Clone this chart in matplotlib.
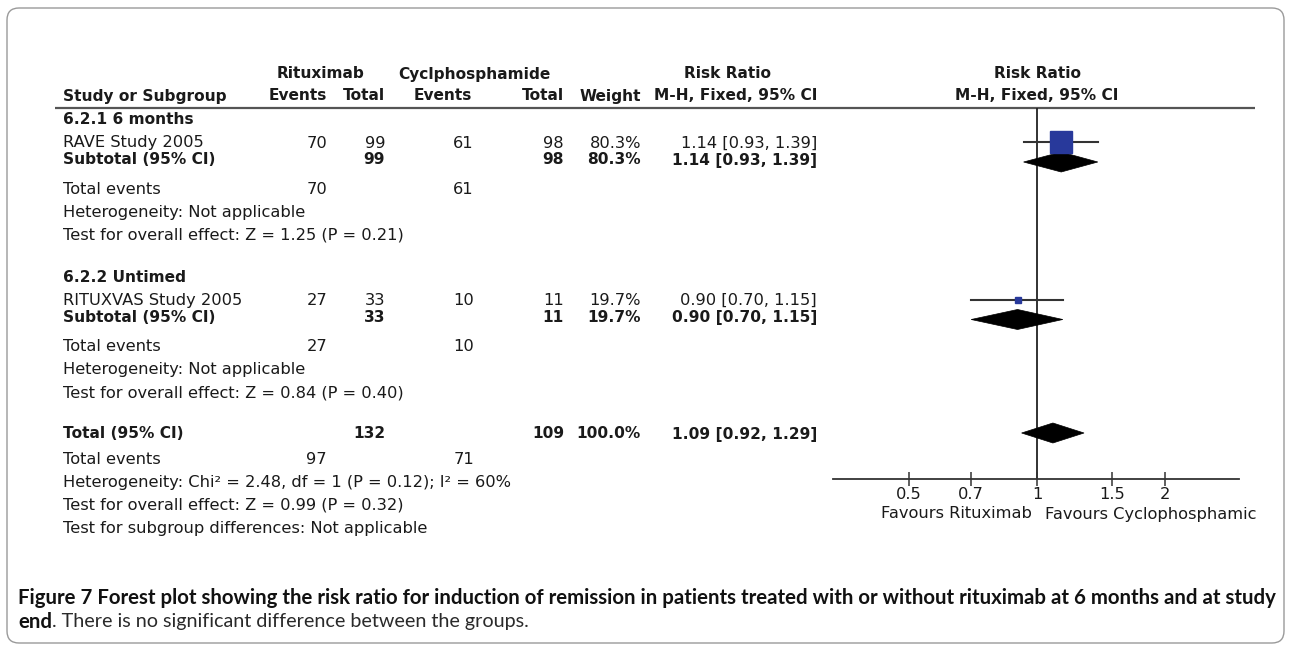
import matplotlib
matplotlib.use("Agg")
import matplotlib.pyplot as plt
from matplotlib.patches import Polygon, FancyBboxPatch
import numpy as np

plt.rcParams["font.family"] = ["DejaVu Sans"]

# ---------------- data ----------------
subgroups = ["6.2.1 6 months", "6.2.2 Untimed"]
studies = ["RAVE Study 2005", "RITUXVAS Study 2005"]
rtx_events = [70, 27]
rtx_total = [99, 33]
cyc_events = [61, 10]
cyc_total = [98, 11]
weights = [80.3, 19.7]
rr = [1.14, 0.90]
rr_lo = [0.93, 0.70]
rr_hi = [1.39, 1.15]
sub_rr = [1.14, 0.90]
sub_lo = [0.93, 0.70]
sub_hi = [1.39, 1.15]
het_texts = ["Heterogeneity: Not applicable", "Heterogeneity: Not applicable"]
effect_texts = ["Test for overall effect: Z = 1.25 (P = 0.21)",
                "Test for overall effect: Z = 0.84 (P = 0.40)"]
total_rtx_events = 97
total_rtx = 132
total_cyc_events = 71
total_cyc = 109
total_weight = 100.0
total_rr = 1.09
total_lo = 0.92
total_hi = 1.29
total_het = "Heterogeneity: Chi\u00b2 = 2.48, df = 1 (P = 0.12); I\u00b2 = 60%"
total_effect = "Test for overall effect: Z = 0.99 (P = 0.32)"
subgroup_diff = "Test for subgroup differences: Not applicable"
tick_values = [0.5, 0.7, 1, 1.5, 2]
tick_labels = ["0.5", "0.7", "1", "1.5", "2"]
favours_left = "Favours Rituximab"
favours_right = "Favours Cyclophosphamic"
caption_bold = ("Figure 7 Forest plot showing the risk ratio for induction of remission in patients "
                "treated with or without rituximab at 6 months and at study")
caption_bold2 = "end"
caption_rest = ". There is no significant difference between the groups."

# ---------------- layout ----------------
W, H = 1291, 647
fig = plt.figure(figsize=(W / 100, H / 100), dpi=100)
tab = fig.add_axes([0, 0, 1, 1])
tab.set_xlim(0, W)
tab.set_ylim(H, 0)
tab.axis("off")

FS = 11.7
FSB = 11.1
TXT = "#1a1a1a"
TFONT = ["DejaVu Sans"]
col_label = 63
col_re, col_rt, col_ce, col_ct, col_w, col_ci = 327, 385, 474, 564, 641, 817

def t(x, y, s, ha="left", bold=False, **kw):
    tab.text(x, y, s, ha=ha, va="center", fontsize=FSB if bold else FS, color=TXT,
             family=TFONT, fontweight="bold" if bold else "normal", **kw)

# headers
t(321, 74, "Rituximab", ha="center", bold=True)
t(474.5, 74, "Cyclphosphamide", ha="center", bold=True)
t(728, 74, "Risk Ratio", ha="center", bold=True)
t(1037, 74, "Risk Ratio", ha="center", bold=True)
t(col_label, 96, "Study or Subgroup", bold=True)
t(col_re, 96, "Events", ha="right", bold=True)
t(col_rt, 96, "Total", ha="right", bold=True)
t(443, 96, "Events", ha="center", bold=True)
t(col_ct, 96, "Total", ha="right", bold=True)
t(col_w, 96, "Weight", ha="right", bold=True)
t(col_ci, 96, "M-H, Fixed, 95% CI", ha="right", bold=True)
t(1037, 96, "M-H, Fixed, 95% CI", ha="center", bold=True)
tab.plot([55, 1255], [108, 108], color="#555555", lw=1.6, solid_capstyle="butt")

# forest axes
x_left_px, x_right_px, x_one_px = 833, 1239, 1037
px_per_ln = 184.6
y_top_px, y_axis_px = 108, 479
fp = fig.add_axes([x_left_px / W, (H - y_axis_px) / H,
                   (x_right_px - x_left_px) / W, (y_axis_px - y_top_px) / H])
fp.set_xscale("log")
fp.set_xlim(np.exp((x_left_px - x_one_px) / px_per_ln), np.exp((x_right_px - x_one_px) / px_per_ln))
fp.set_ylim(y_axis_px, y_top_px)
fp.patch.set_alpha(0)
for s in ["top", "left", "right"]:
    fp.spines[s].set_visible(False)
fp.spines["bottom"].set_color("#333333")
fp.spines["bottom"].set_linewidth(1.3)
fp.set_yticks([])
fp.set_xticks(tick_values)
fp.set_xticklabels(tick_labels, family=TFONT)
fp.xaxis.set_minor_locator(matplotlib.ticker.NullLocator())
fp.tick_params(axis="x", direction="inout", length=10, width=1.1, color="#333333",
               labelsize=FS, labelcolor=TXT, pad=0.5)
fp.axvline(1, color="#222222", lw=1.3, zorder=1)

SQ = "#28399b"
DH = 20

def diamond(y, c, lo, hi):
    fp.add_patch(Polygon([(lo, y), (c, y - DH / 2), (hi, y), (c, y + DH / 2)],
                         closed=True, facecolor="black", edgecolor="black", lw=0.5, zorder=3))

group_offsets = [0, 157.5]
for i in range(2):
    o = group_offsets[i]
    y_head, y_study, y_sub = 120 + o, 143 + o, 160 + o
    y_ev, y_het, y_eff = 189 + o, 212 + o, 235 + o
    t(col_label, y_head, subgroups[i], bold=True)
    t(col_label, y_study, studies[i])
    t(col_re, y_study, f"{rtx_events[i]}", ha="right")
    t(col_rt, y_study, f"{rtx_total[i]}", ha="right")
    t(col_ce, y_study, f"{cyc_events[i]}", ha="right")
    t(col_ct, y_study, f"{cyc_total[i]}", ha="right")
    t(col_w, y_study, f"{weights[i]:.1f}%", ha="right")
    t(col_ci, y_study, f"{rr[i]:.2f} [{rr_lo[i]:.2f}, {rr_hi[i]:.2f}]", ha="right")
    t(col_label, y_sub, "Subtotal (95% CI)", bold=True)
    t(col_rt, y_sub, f"{rtx_total[i]}", ha="right", bold=True)
    t(col_ct, y_sub, f"{cyc_total[i]}", ha="right", bold=True)
    t(col_w, y_sub, f"{weights[i]:.1f}%", ha="right", bold=True)
    t(col_ci, y_sub, f"{sub_rr[i]:.2f} [{sub_lo[i]:.2f}, {sub_hi[i]:.2f}]", ha="right", bold=True)
    t(col_label, y_ev, "Total events")
    t(col_re, y_ev, f"{rtx_events[i]}", ha="right")
    t(col_ce, y_ev, f"{cyc_events[i]}", ha="right")
    t(col_label, y_het, het_texts[i])
    t(col_label, y_eff, effect_texts[i])
    # forest marks
    fp.plot([rr_lo[i], rr_hi[i]], [y_study - 1, y_study - 1], color="#333333", lw=1.5, zorder=2)
    side_px = 0.63 * weights[i] ** 0.8
    fp.plot([rr[i]], [y_study - 1], marker="s", linestyle="none", markersize=side_px * 0.72,
            markerfacecolor=SQ, markeredgecolor=SQ, zorder=4)
    diamond(y_sub + 2, sub_rr[i], sub_lo[i], sub_hi[i])

# overall
y_tot = 434
t(col_label, y_tot, "Total (95% CI)", bold=True)
t(col_rt, y_tot, f"{total_rtx}", ha="right", bold=True)
t(col_ct, y_tot, f"{total_cyc}", ha="right", bold=True)
t(col_w, y_tot, f"{total_weight:.1f}%", ha="right", bold=True)
t(col_ci, y_tot, f"{total_rr:.2f} [{total_lo:.2f}, {total_hi:.2f}]", ha="right", bold=True)
t(col_label, 459, "Total events")
t(col_re, 459, f"{total_rtx_events}", ha="right")
t(col_ce, 459, f"{total_cyc_events}", ha="right")
t(col_label, 482, total_het)
t(col_label, 505, total_effect)
t(col_label, 528, subgroup_diff)
diamond(y_tot - 1, total_rr, total_lo, total_hi)

t(1032, 514, favours_left, ha="right")
t(1045, 514, favours_right, ha="left")

# caption
CAP_FONT = ["Lato", "DejaVu Sans"]
cap1 = tab.text(18, 598, caption_bold, ha="left", va="center", fontsize=12.5,
                fontweight="bold", family=CAP_FONT, color="#111111")
fig.canvas.draw()
r = fig.canvas.get_renderer()
bb = cap1.get_window_extent(renderer=r)
cap_fs = 12.5 * (1275 - 18) / bb.width
cap1.set_fontsize(cap_fs)
cap2 = tab.text(18, 622, caption_bold2, ha="left", va="center", fontsize=cap_fs,
                fontweight="bold", family=CAP_FONT, color="#111111")
fig.canvas.draw()
bb2 = cap2.get_window_extent(renderer=r)
tab.text(18 + bb2.width, 622, caption_rest, ha="left", va="center", fontsize=cap_fs * 0.97,
         fontweight="normal", family=CAP_FONT, color="#2a2a2a")

# frame
tab.add_patch(FancyBboxPatch((7, 8), 1277, 635, boxstyle="round,pad=0,rounding_size=12",
                             facecolor="none", edgecolor="#9a9a9a", lw=1.0, clip_on=False))

fig.savefig("out.png", dpi=100)
